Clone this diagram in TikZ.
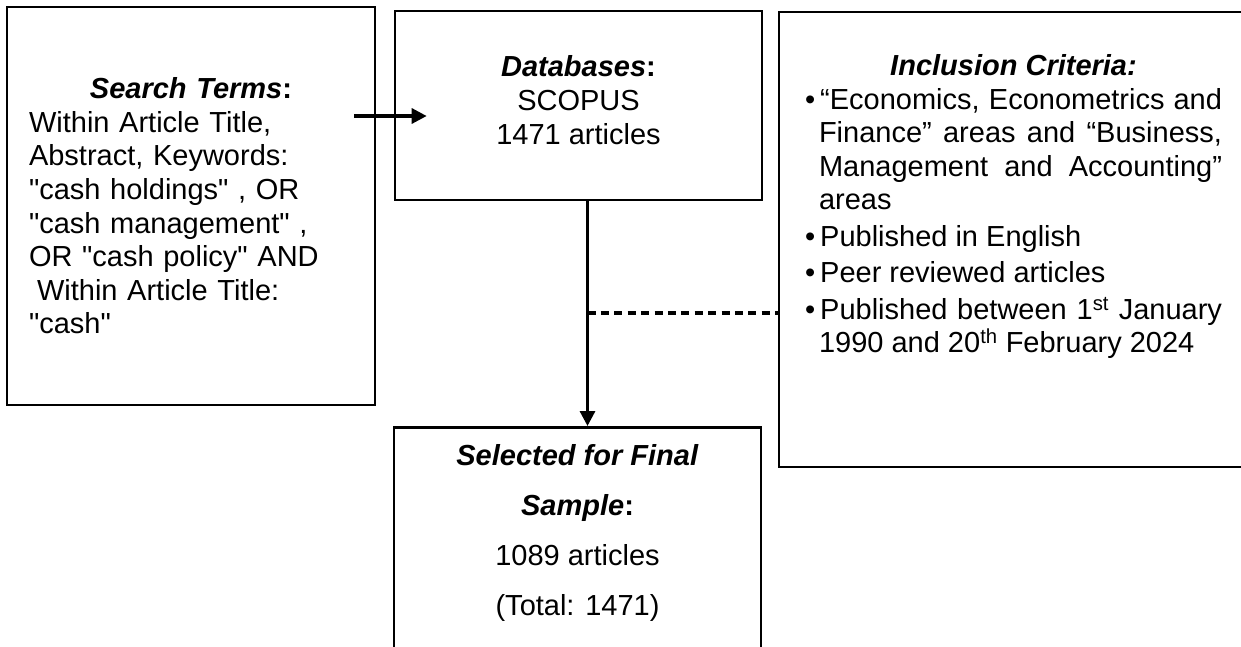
\documentclass[tikz,border=0pt]{standalone}
\usepackage{fontspec}
\setmainfont{Liberation Sans}
\usepackage{enumitem}
\usetikzlibrary{arrows.meta}

\tikzset{
  box/.style={draw, line width=2.6pt, inner sep=0pt},
  flow/.style={line width=3.2pt, -{Triangle[length=15pt,width=15pt]}},
  skipline/.style={line width=3.4pt, dash pattern=on 8pt off 5.4pt},
}
\newcommand{\hd}[1]{\textbf{\textit{#1}}}
\newcommand{\qq}{\textquotedbl}

\begin{document}
\begin{tikzpicture}[x=1pt,y=-1pt,font=\fontsize{29}{33.6}\selectfont]
  \useasboundingbox (0,0) rectangle (1241,646);
  \clip (0,0) rectangle (1241,646);

  % Search terms
  \node[box, minimum width=368pt, minimum height=398pt,
        text width=324pt, align=left] (search) at (191,206)
        {\makebox[324pt]{\hd{Search Terms}\textbf{:}}\\
         Within Article Title,\\
         Abstract, Keywords:\\
         \qq cash holdings\qq\ , OR\\
         \qq cash management\qq\ ,\\
         OR \qq cash policy\qq\ AND\\
         \hspace*{8pt}Within Article Title:\\
         \qq cash\qq};

  % Databases
  \node[box, minimum width=367pt, minimum height=189pt,
        align=center, text depth=11pt] (db) at (578.5,105.5)
        {\hd{Databases}\textbf{:}\\ SCOPUS\\ 1471 articles};

  % Final sample
  \node[box, anchor=north, minimum width=367pt, inner ysep=17.5pt,
        align=center, text depth=100pt,
        font=\fontsize{29}{50}\selectfont] (sel) at (577.5,426)
        {\hd{Selected for Final}\\ \hd{Sample}\textbf{:}\\
         1089 articles\\ (Total: 1471)};

  % Inclusion criteria
  \node[box, minimum width=464pt, minimum height=455pt] (crit) at (1011,239.5) {};
  \node[anchor=north, inner sep=0pt] (crittxt) at ([shift={(2.5,44)}]crit.north)
    {\begin{minipage}{417pt}
      \fontsize{29}{33.5}\selectfont
      {\centering\hd{Inclusion Criteria:}\par}
      \begin{itemize}[nosep, itemsep=3pt, leftmargin=14pt, labelwidth=9pt,
                      labelsep=5pt, align=left, label=\textbullet]
        \item “Economics, Econometrics and\linebreak Finance” areas and
              “Business,\linebreak Management and Accounting”\linebreak areas
        \item Published in English
        \item Peer reviewed articles
        \item Published between 1\textsuperscript{st} January\linebreak
              1990 and 20\textsuperscript{th} February 2024
      \end{itemize}
     \end{minipage}};

  % Connectors
  \draw[flow] ([shift={(-22,10.5)}]search.east |- db.center)
           -- ([shift={(33,10.5)}]db.west);
  \draw[flow] ([xshift=9pt]db.south) -- ([xshift=9pt]db.south |- sel.north);
  \coordinate (split) at ([xshift=9pt]db.south |- 0,313);
  \draw[skipline] (split) -- (split -| crit.west);
\end{tikzpicture}
\end{document}
